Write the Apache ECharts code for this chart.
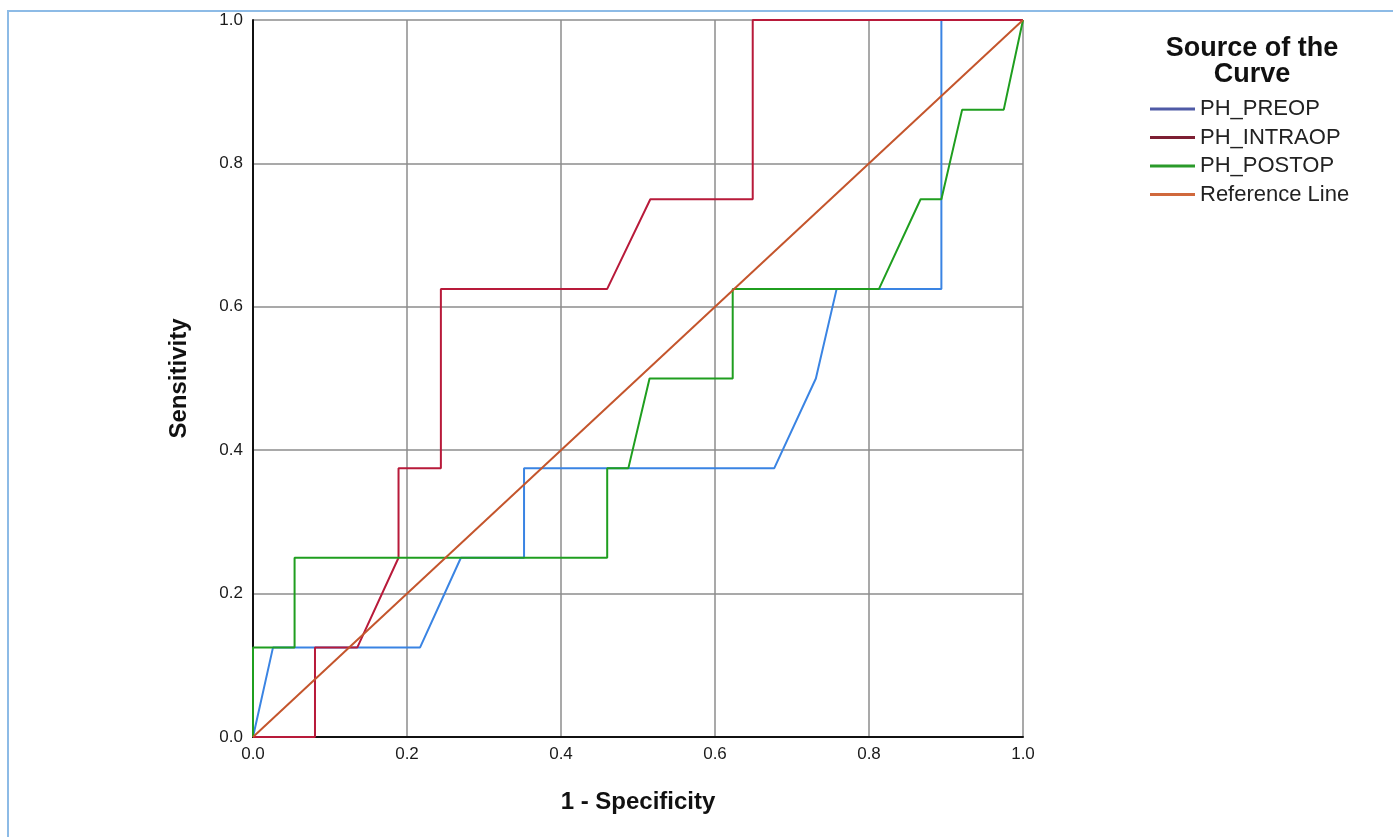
<!DOCTYPE html>
<html>
<head>
<meta charset="utf-8">
<script src="https://cdn.jsdelivr.net/npm/echarts@6/dist/echarts.min.js"></script>
<style>
html,body{margin:0;padding:0;background:#fff;}
#frame{position:absolute;left:7px;top:10px;width:1400px;height:900px;border-top:2px solid #8dbbe6;border-left:2px solid #8dbbe6;}
#main{position:absolute;left:0;top:0;width:1393px;height:837px;}
</style>
</head>
<body>
<div id="frame"></div>
<div id="main"></div>
<script>
// Data
const seriesNames = ['PH_PREOP', 'PH_INTRAOP', 'PH_POSTOP', 'Reference Line'];
const preopX  = [0, 0.026, 0.217, 0.270, 0.352, 0.352, 0.677, 0.731, 0.758, 0.894, 0.894, 1.0];
const preopY  = [0, 0.125, 0.125, 0.25, 0.25, 0.375, 0.375, 0.5, 0.625, 0.625, 1.0, 1.0];
const intraX  = [0, 0.0805, 0.0805, 0.1355, 0.189, 0.189, 0.244, 0.244, 0.460, 0.516, 0.649, 0.649, 1.0];
const intraY  = [0, 0, 0.125, 0.125, 0.25, 0.375, 0.375, 0.625, 0.625, 0.75, 0.75, 1.0, 1.0];
const postX   = [0, 0, 0.054, 0.054, 0.460, 0.460, 0.4875, 0.515, 0.623, 0.623, 0.813, 0.867, 0.894, 0.921, 0.975, 1.0];
const postY   = [0, 0.125, 0.125, 0.25, 0.25, 0.375, 0.375, 0.5, 0.5, 0.625, 0.625, 0.75, 0.75, 0.875, 0.875, 1.0];
const refX    = [0, 1];
const refY    = [0, 1];
const tickLabels = ['0.0', '0.2', '0.4', '0.6', '0.8', '1.0'];

const curveColors  = ['#3a84e3', '#b81a3a', '#1f9e1f', '#c4552c'];
const legendColors = ['#4f5aa6', '#7d1f33', '#2a9a2a', '#d0683c'];

function pairs(xs, ys) { return xs.map((x, i) => [x, ys[i]]); }
const allData = [pairs(preopX, preopY), pairs(intraX, intraY), pairs(postX, postY), pairs(refX, refY)];

const chart = echarts.init(document.getElementById('main'), null, {renderer: 'canvas'});
const fontFam = '"Liberation Sans", Arial, sans-serif';

function fmt(v) {
  const i = Math.round(v / 0.2);
  return tickLabels[i] !== undefined ? tickLabels[i] : '';
}

const option = {
  backgroundColor: 'transparent',
  animation: false,
  title: {
    text: 'Source of the\nCurve',
    left: 1252, top: 36, padding: 0,
    textAlign: 'center',
    textStyle: {fontFamily: fontFam, fontSize: 27, fontWeight: 'bold', color: '#111', lineHeight: 26}
  },
  legend: {
    orient: 'vertical',
    left: 1150, top: 97, padding: 0,
    itemWidth: 45, itemHeight: 3, itemGap: 4.5,
    icon: 'rect',
    textStyle: {fontFamily: fontFam, fontSize: 22, color: '#222', lineHeight: 24},
    data: seriesNames.map((n, i) => ({name: n, itemStyle: {color: legendColors[i]}}))
  },
  grid: {left: 253, top: 20, width: 770, height: 717, containLabel: false, show: false},
  xAxis: {
    type: 'value', min: 0, max: 1, interval: 0.2,
    name: '1 - Specificity', nameLocation: 'middle', nameGap: 53,
    nameTextStyle: {fontFamily: fontFam, fontSize: 24, fontWeight: 'bold', color: '#111'},
    axisLine: {show: true, onZero: false, lineStyle: {color: '#111', width: 2}},
    axisTick: {show: false},
    axisLabel: {formatter: fmt, fontFamily: fontFam, fontSize: 17, color: '#1a1a1a', margin: 9},
    splitLine: {show: true, lineStyle: {color: '#8c8c8c', width: 1.5}}
  },
  yAxis: {
    type: 'value', min: 0, max: 1, interval: 0.2,
    name: 'Sensitivity', nameLocation: 'middle', nameGap: 62, nameRotate: 90,
    nameTextStyle: {fontFamily: fontFam, fontSize: 24, fontWeight: 'bold', color: '#111'},
    axisLine: {show: true, onZero: false, lineStyle: {color: '#111', width: 2}},
    axisTick: {show: false},
    axisLabel: {formatter: fmt, fontFamily: fontFam, fontSize: 17, color: '#1a1a1a', margin: 10},
    splitLine: {show: true, lineStyle: {color: '#8c8c8c', width: 1.5}}
  },
  series: seriesNames.map((n, i) => ({
    name: n, type: 'line', data: allData[i],
    showSymbol: false, symbol: 'none',
    lineStyle: {color: curveColors[i], width: 2},
    itemStyle: {color: curveColors[i]},
    z: 2 + i
  }))
};
chart.setOption(option);
</script>
</body>
</html>
